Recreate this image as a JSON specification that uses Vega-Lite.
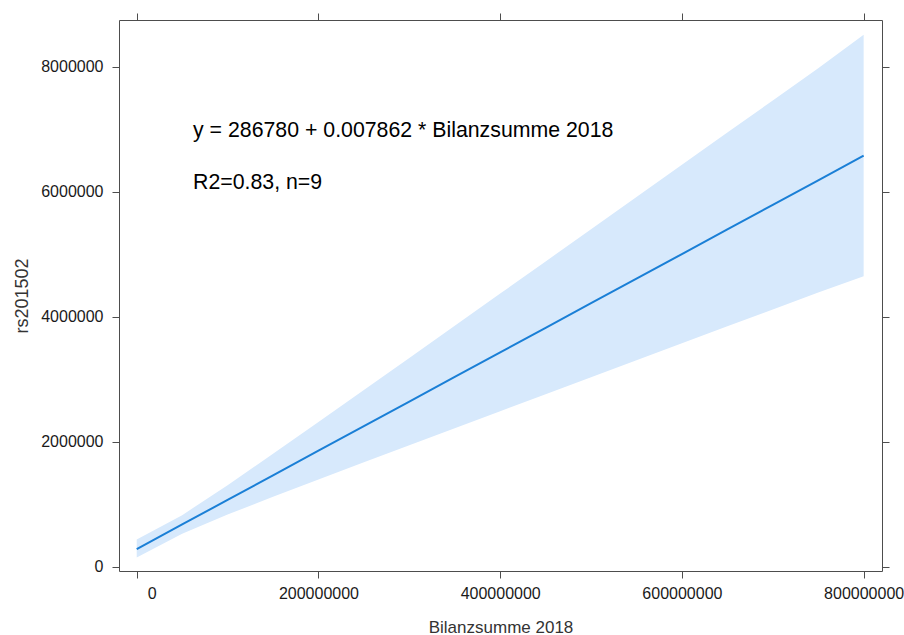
{
  "$schema": "https://vega.github.io/schema/vega-lite/v6.json",
  "width": 763,
  "height": 551,
  "autosize": {"type": "none"},
  "padding": {"left": 119, "top": 20, "right": 22, "bottom": 64},
  "background": "white",
  "config": {
    "view": {"stroke": "#4d4d4d", "strokeWidth": 1},
    "font": "Liberation Sans",
    "axis": {
      "domain": false,
      "grid": false,
      "ticks": true,
      "tickSize": 7,
      "tickColor": "#4d4d4d",
      "tickWidth": 1,
      "labelFont": "Liberation Sans",
      "labelFontSize": 16,
      "labelColor": "#1a1a1a",
      "titleFont": "Liberation Sans",
      "titleFontSize": 16,
      "titleFontWeight": "normal",
      "titleColor": "#333333"
    }
  },
  "datasets": {
    "fit": [
      {"x": 0, "fit": 286800, "lower": 150000, "upper": 440000},
      {"x": 50000000, "fit": 679900, "lower": 530500, "upper": 829300},
      {"x": 100000000, "fit": 1073000, "lower": 837800, "upper": 1308200},
      {"x": 150000000, "fit": 1466100, "lower": 1122100, "upper": 1810100},
      {"x": 200000000, "fit": 1859200, "lower": 1399400, "upper": 2319000},
      {"x": 250000000, "fit": 2252300, "lower": 1674000, "upper": 2830600},
      {"x": 300000000, "fit": 2645400, "lower": 1947200, "upper": 3343600},
      {"x": 350000000, "fit": 3038500, "lower": 2219600, "upper": 3857400},
      {"x": 400000000, "fit": 3431600, "lower": 2491600, "upper": 4371600},
      {"x": 450000000, "fit": 3824700, "lower": 2763200, "upper": 4886200},
      {"x": 500000000, "fit": 4217800, "lower": 3034600, "upper": 5401000},
      {"x": 550000000, "fit": 4610900, "lower": 3305900, "upper": 5915900},
      {"x": 600000000, "fit": 5004000, "lower": 3577100, "upper": 6430900},
      {"x": 650000000, "fit": 5397100, "lower": 3848100, "upper": 6946100},
      {"x": 700000000, "fit": 5790200, "lower": 4119100, "upper": 7461300},
      {"x": 750000000, "fit": 6183300, "lower": 4390100, "upper": 7976500},
      {"x": 800000000, "fit": 6576400, "lower": 4650000, "upper": 8510000}
    ]
  },
  "layer": [
    {
      "data": {"name": "fit"},
      "mark": {"type": "area", "color": "#d7e9fc", "opacity": 1},
      "encoding": {
        "x": {
          "field": "x", "type": "quantitative",
          "scale": {"domain": [-19500000, 820200000], "nice": false, "zero": false},
          "axis": {
            "orient": "bottom",
            "values": [0, 200000000, 400000000, 600000000, 800000000],
            "format": "d",
            "labelPadding": 7,
            "labelOffset": {"condition": {"test": "datum.value === 0", "value": 15}, "value": 0},
            "title": "Bilanzsumme 2018",
            "titleFontSize": 17,
            "titlePadding": 18
          }
        },
        "y": {
          "field": "lower", "type": "quantitative",
          "scale": {"domain": [-64000, 8747000], "nice": false, "zero": false},
          "axis": {
            "orient": "left",
            "values": [0, 2000000, 4000000, 6000000, 8000000],
            "format": "d",
            "labelPadding": 9,
            "title": "rs201502",
            "titleFontSize": 18,
            "titlePadding": 9
          }
        },
        "y2": {"field": "upper"}
      }
    },
    {
      "data": {"name": "fit"},
      "mark": {"type": "line", "color": "#1a7fd6", "strokeWidth": 2},
      "encoding": {
        "x": {
          "field": "x", "type": "quantitative",
          "scale": {"domain": [-19500000, 820200000], "nice": false, "zero": false},
          "axis": {
            "orient": "top",
            "values": [0, 200000000, 400000000, 600000000, 800000000],
            "labels": false,
            "title": null
          }
        },
        "y": {
          "field": "fit", "type": "quantitative",
          "scale": {"domain": [-64000, 8747000], "nice": false, "zero": false},
          "axis": {
            "orient": "right",
            "values": [0, 2000000, 4000000, 6000000, 8000000],
            "labels": false,
            "title": null
          }
        }
      }
    },
    {
      "data": {"values": [{"label": "y = 286780 + 0.007862 * Bilanzsumme 2018"}]},
      "mark": {"type": "text", "align": "left", "baseline": "middle", "fontSize": 21.3, "color": "#000000", "font": "Liberation Sans"},
      "encoding": {
        "x": {"datum": 62000000, "type": "quantitative", "scale": {"domain": [-19500000, 820200000], "nice": false, "zero": false}, "axis": null},
        "y": {"datum": 6971000, "type": "quantitative", "scale": {"domain": [-64000, 8747000], "nice": false, "zero": false}, "axis": null},
        "text": {"field": "label"}
      }
    },
    {
      "data": {"values": [{"label": "R2=0.83, n=9"}]},
      "mark": {"type": "text", "align": "left", "baseline": "middle", "fontSize": 21.3, "color": "#000000", "font": "Liberation Sans"},
      "encoding": {
        "x": {"datum": 62000000, "type": "quantitative", "scale": {"domain": [-19500000, 820200000], "nice": false, "zero": false}, "axis": null},
        "y": {"datum": 6139000, "type": "quantitative", "scale": {"domain": [-64000, 8747000], "nice": false, "zero": false}, "axis": null},
        "text": {"field": "label"}
      }
    }
  ],
  "resolve": {"axis": {"x": "independent", "y": "independent"}}
}
